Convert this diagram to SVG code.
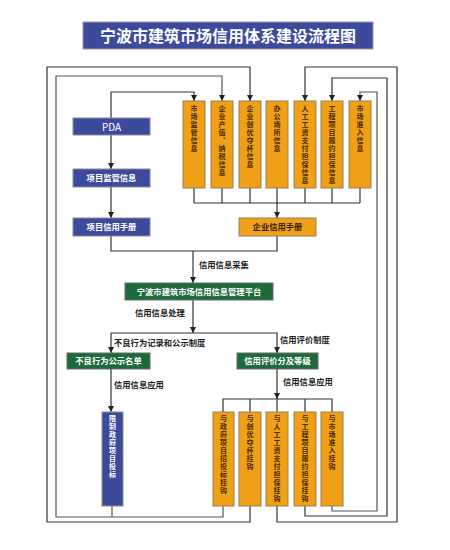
<svg xmlns="http://www.w3.org/2000/svg" width="450" height="550" viewBox="0 0 450 550">
<defs>
<marker id="ah" viewBox="0 0 8 8" refX="8" refY="4" markerWidth="6" markerHeight="6" markerUnits="userSpaceOnUse" orient="auto">
<path d="M0,0 L8,4 L0,8 z" fill="#222"/>
</marker>
<style>
.ob{fill:#f0a016;stroke:#9a7e5a;stroke-width:1;}
.bb{fill:#3c4a9c;stroke:#8a8a9a;stroke-width:1;}
.gb{fill:#1d6b3a;stroke:#6a6a6a;stroke-width:1;}
.vo,.vw{font-family:"Noto Sans CJK SC","Liberation Sans",sans-serif;font-size:7px;writing-mode:vertical-rl;text-orientation:upright;glyph-orientation-vertical:0;letter-spacing:1px;font-weight:bold;}
.vo{fill:#4a2a00;}
.vw{fill:#ffffff;}
.hw{font-family:"Noto Sans CJK SC","Liberation Sans",sans-serif;font-size:8.3px;fill:#ffffff;text-anchor:middle;font-weight:bold;}
.ho{font-family:"Noto Sans CJK SC","Liberation Sans",sans-serif;font-size:8.3px;fill:#3a2000;text-anchor:middle;font-weight:bold;}
.lb{font-family:"Noto Sans CJK SC","Liberation Sans",sans-serif;font-size:8.3px;fill:#222;font-weight:bold;}
.c{fill:none;stroke:#333;stroke-width:1.2;}
.c2{fill:none;stroke:#555;stroke-width:1.2;}
.a{marker-end:url(#ah);}
</style>
</defs>
<rect width="450" height="550" fill="#ffffff"/>

<g id="title">
<rect x="83" y="22" width="290" height="27" fill="#3c4a9c" stroke="#9a9ab0" stroke-width="1"/>
<text x="228" y="41.5" font-family="Noto Sans CJK SC, Liberation Sans, sans-serif" font-size="16" font-weight="bold" fill="#ffffff" text-anchor="middle">宁波市建筑市场信用体系建设流程图</text>
</g>

<g id="connectors">
<path class="c a" d="M111,118 V92 H194 V101"/>
<path class="c2 a" d="M223,506 V517 H56 V76 H222 V101"/>
<path class="c2" d="M112,506 V517"/>
<path class="c a" d="M250,506 V522 H47 V67 H250 V101"/>
<path class="c a" d="M277,506 V522 H397 V67 H305 V101"/>
<path class="c a" d="M305,506 V516 H387 V78 H332 V101"/>
<path class="c2 a" d="M332,506 V511 H377 V92 H360 V101"/>
<path class="c" d="M194,188 V203 M222,188 V203 M250,188 V203 M305,188 V203 M332,188 V203 M360,188 V203 M194,203 H360"/>
<path class="c a" d="M277,188 V218"/>
<path class="c a" d="M111,135 V169"/>
<path class="c a" d="M111,187 V218"/>
<path class="c" d="M111,236 V251 H277 V236"/>
<path class="c a" d="M193,251 V283"/>
<path class="c a" d="M193,300 V333"/>
<path class="c a" d="M111,333 V353"/>
<path class="c a" d="M111,333 H277 V353"/>
<path class="c a" d="M111,369 V412"/>
<path class="c a" d="M277,369 V399"/>
<path class="c" d="M223,412 V399 H332 V412 M250,399 V412 M277,399 V412 M305,399 V412"/>
<text class="lb" x="199" y="268">信用信息采集</text>
<text class="lb" x="135" y="316">信用信息处理</text>
<text class="lb" x="114" y="346">不良行为记录和公示制度</text>
<text class="lb" x="280" y="343">信用评价制度</text>
<text class="lb" x="114" y="388">信用信息应用</text>
<text class="lb" x="283" y="385">信用信息应用</text>
</g>

<g id="n-market">
<rect class="ob" x="183" y="101" width="22" height="87"/>
<text class="vo" x="194" y="104.5">市场监管信息</text>
</g>
<g id="n-output">
<rect class="ob" x="211" y="101" width="22" height="87"/>
<text class="vo" x="222" y="104.5">企业产值、纳税信息</text>
</g>
<g id="n-award">
<rect class="ob" x="239" y="101" width="22" height="87"/>
<text class="vo" x="250" y="104.5">企业创优夺杯信息</text>
</g>
<g id="n-office">
<rect class="ob" x="266" y="101" width="22" height="87"/>
<text class="vo" x="277" y="104.5">办公场所信息</text>
</g>
<g id="n-wage">
<rect class="ob" x="294" y="101" width="22" height="87"/>
<text class="vo" x="305" y="104.5">人工工资支付担保信息</text>
</g>
<g id="n-perform">
<rect class="ob" x="321" y="101" width="22" height="87"/>
<text class="vo" x="332" y="104.5">工程项目履约担保信息</text>
</g>
<g id="n-access">
<rect class="ob" x="349" y="101" width="22" height="87"/>
<text class="vo" x="360" y="104.5">市场准入信息</text>
</g>

<g id="n-pda">
<rect class="bb" x="73" y="118" width="77" height="17"/>
<text class="hw" x="111.5" y="130.5" style="font-size:10px;font-weight:normal">PDA</text>
</g>
<g id="n-projsup">
<rect class="bb" x="73" y="169" width="77" height="18"/>
<text class="hw" x="111.5" y="181">项目监管信息</text>
</g>
<g id="n-projbook">
<rect class="bb" x="73" y="218" width="77" height="18"/>
<text class="hw" x="111.5" y="230">项目信用手册</text>
</g>
<g id="n-entbook">
<rect class="ob" x="239" y="218" width="77" height="18"/>
<text class="ho" x="277.5" y="230">企业信用手册</text>
</g>
<g id="n-platform">
<rect class="gb" x="125" y="283" width="148" height="17"/>
<text class="hw" x="199" y="294.8">宁波市建筑市场信用信息管理平台</text>
</g>
<g id="n-badlist">
<rect class="gb" x="67" y="353" width="83" height="16"/>
<text class="hw" x="108.5" y="364.3">不良行为公示名单</text>
</g>
<g id="n-grade">
<rect class="gb" x="237" y="353" width="81" height="16"/>
<text class="hw" x="277.5" y="364.3">信用评价分及等级</text>
</g>
<g id="n-limit">
<rect class="bb" x="102" y="412" width="21" height="94"/>
<text class="vw" x="112.5" y="414.5">限制政府项目投标</text>
</g>
<g id="n-l1">
<rect class="ob" x="213" y="412" width="21" height="94"/>
<text class="vo" x="223.5" y="414.5">与政府项目招投标挂钩</text>
</g>
<g id="n-l2">
<rect class="ob" x="239" y="412" width="22" height="94"/>
<text class="vo" x="250" y="414.5">与创优夺杯挂钩</text>
</g>
<g id="n-l3">
<rect class="ob" x="266" y="412" width="22" height="94"/>
<text class="vo" x="277" y="414.5">与人工工资支付担保挂钩</text>
</g>
<g id="n-l4">
<rect class="ob" x="294" y="412" width="22" height="94"/>
<text class="vo" x="305" y="414.5">与工程项目履约担保挂钩</text>
</g>
<g id="n-l5">
<rect class="ob" x="321" y="412" width="22" height="94"/>
<text class="vo" x="332" y="414.5">与市场准入挂钩</text>
</g>
</svg>
